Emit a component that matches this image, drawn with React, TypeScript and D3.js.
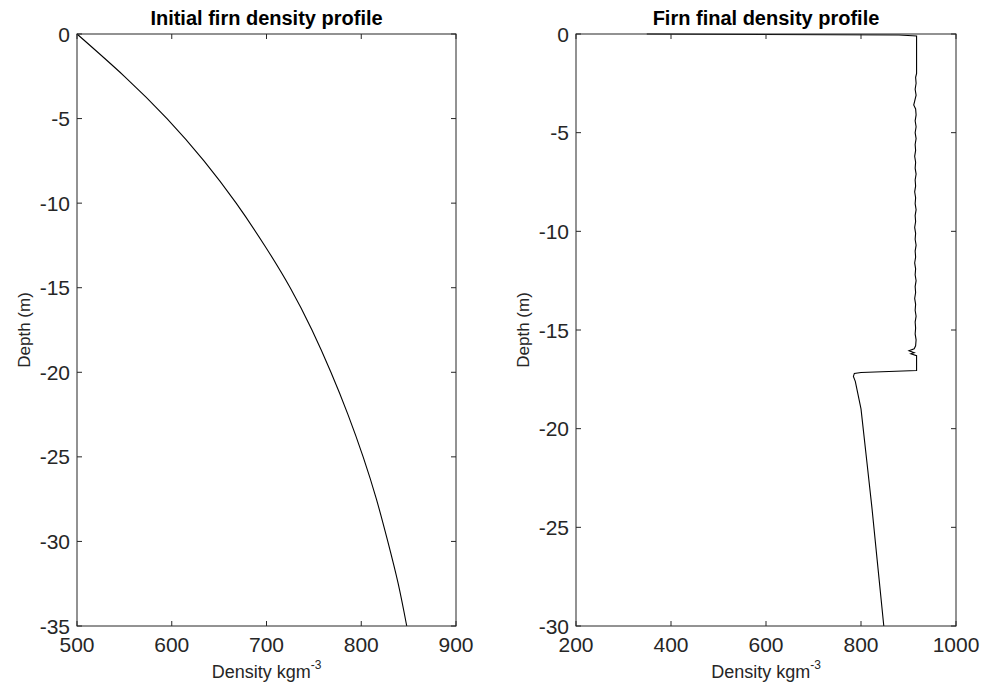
import React from "react";
import * as d3 from "d3";

// Initial firn density profile
const initDepth = [0, -2.5, -5, -7.5, -10, -12.5, -15, -17.5, -20, -22.5, -25, -27.5, -30, -32.5, -35];
const initDensity = [500, 550, 595, 634, 668, 698, 725, 748, 768, 786, 802, 816, 828, 839, 848];

// Final density profile
const finalDepth = [
  0, -0.05, -0.1, -2.0, -2.2, -2.5, -2.8, -3.1, -3.4, -3.6, -3.8, -4.1, -4.4, -4.7, -5.0, -5.3, -5.6,
  -5.9, -6.2, -6.5, -6.8, -7.1, -7.4, -7.7, -8.0, -8.3, -8.6, -8.9, -9.2, -9.5, -9.8, -10.1, -10.4,
  -10.7, -11.0, -11.3, -11.6, -11.9, -12.2, -12.5, -12.8, -13.1, -13.4, -13.7, -14.0, -14.3, -14.6,
  -14.9, -15.2, -15.5, -15.8, -15.95, -16.05, -16.15, -16.2, -16.3, -17.05, -17.15, -17.2, -17.35,
  -17.6, -19.0, -21.6, -24.0, -26.65, -30.0,
];
const finalDensity = [
  349, 880, 917, 917, 915, 916, 914, 916, 913, 911, 915, 916, 914, 916, 914, 916, 914,
  915, 913, 915, 914, 916, 914, 915, 913, 915, 914, 916, 914, 915, 913, 915, 914,
  916, 914, 915, 913, 915, 914, 916, 914, 915, 913, 915, 914, 916, 914,
  915, 914, 916, 915, 912, 901, 912, 905, 917, 917, 800, 786, 784,
  788, 800, 812, 823, 834, 848,
];

const leftXTicks = [500, 600, 700, 800, 900];
const leftYTicks = [0, -5, -10, -15, -20, -25, -30, -35];
const rightXTicks = [200, 400, 600, 800, 1000];
const rightYTicks = [0, -5, -10, -15, -20, -25, -30];

const FONT = "'Liberation Sans', Arial, Helvetica, sans-serif";
const AX = "#262626";

type PanelProps = {
  x0: number;
  x1: number;
  y0: number;
  y1: number;
  xDomain: [number, number];
  yDomain: [number, number];
  xTicks: number[];
  yTicks: number[];
  xs: number[];
  ys: number[];
  title: string;
  smooth: boolean;
};

function Panel(p: PanelProps) {
  const x = d3.scaleLinear().domain(p.xDomain).range([p.x0, p.x1]);
  const y = d3.scaleLinear().domain(p.yDomain).range([p.y0, p.y1]);
  const pts: [number, number][] = p.xs.map((v, i) => [v, p.ys[i]]);
  const line = d3
    .line<[number, number]>()
    .x((d) => x(d[0]))
    .y((d) => y(d[1]))
    .curve(p.smooth ? d3.curveNatural : d3.curveLinear);
  const tl = 5;
  const cx = (p.x0 + p.x1) / 2;
  const cy = (p.y0 + p.y1) / 2;
  return (
    <g>
      <path d={line(pts) || ""} fill="none" stroke="#000" strokeWidth={1.1} />
      <rect x={p.x0} y={p.y0} width={p.x1 - p.x0} height={p.y1 - p.y0} fill="none" stroke={AX} strokeWidth={1} />
      {p.xTicks.map((t) => (
        <g key={"x" + t}>
          <line x1={x(t)} x2={x(t)} y1={p.y1} y2={p.y1 - tl} stroke={AX} />
          <line x1={x(t)} x2={x(t)} y1={p.y0} y2={p.y0 + tl} stroke={AX} />
          <text x={x(t)} y={652} textAnchor="middle" fontSize={21} fill={AX} fontFamily={FONT}>
            {t}
          </text>
        </g>
      ))}
      {p.yTicks.map((t) => (
        <g key={"y" + t}>
          <line x1={p.x0} x2={p.x0 + tl} y1={y(t)} y2={y(t)} stroke={AX} />
          <line x1={p.x1} x2={p.x1 - tl} y1={y(t)} y2={y(t)} stroke={AX} />
          <text x={p.x0 - 7} y={y(t)} dy="0.36em" textAnchor="end" fontSize={21} fill={AX} fontFamily={FONT}>
            {t}
          </text>
        </g>
      ))}
      <text x={cx} y={25} textAnchor="middle" fontSize={20} fontWeight="bold" fill="#000" fontFamily={FONT}>
        {p.title}
      </text>
      <text x={cx} y={678} textAnchor="middle" fontSize={18} fill={AX} fontFamily={FONT}>
        Density kgm
        <tspan fontSize={12} dy={-9}>
          -3
        </tspan>
      </text>
      <text
        transform={`translate(${p.x0 - 47.5},${cy}) rotate(-90)`}
        textAnchor="middle"
        fontSize={17}
        fill={AX}
        fontFamily={FONT}
      >
        Depth (m)
      </text>
    </g>
  );
}

export default function App() {
  return (
    <svg
      width={986}
      height={686}
      style={{ position: "absolute", left: 0, top: 0, background: "#fff", display: "block" }}
    >
      <rect width={986} height={686} fill="#fff" />
      <Panel
        x0={77}
        x1={456}
        y0={34}
        y1={626}
        xDomain={[500, 900]}
        yDomain={[0, -35]}
        xTicks={leftXTicks}
        yTicks={leftYTicks}
        xs={initDensity}
        ys={initDepth}
        title="Initial firn density profile"
        smooth={true}
      />
      <Panel
        x0={576}
        x1={956}
        y0={34}
        y1={626}
        xDomain={[200, 1000]}
        yDomain={[0, -30]}
        xTicks={rightXTicks}
        yTicks={rightYTicks}
        xs={finalDensity}
        ys={finalDepth}
        title="Firn final density profile"
        smooth={false}
      />
    </svg>
  );
}
